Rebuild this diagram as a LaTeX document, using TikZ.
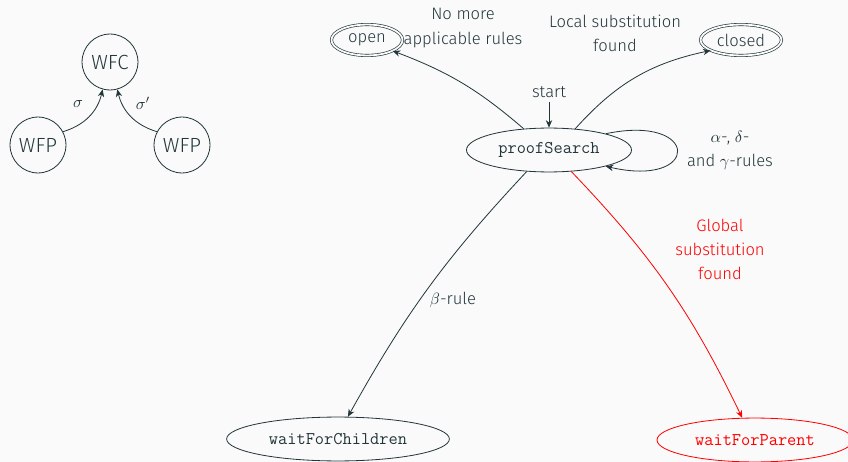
\documentclass[tikz,border=0pt]{standalone}
\usepackage{fontspec}
\setmainfont{Fira Sans}[UprightFont=* Light]
\usetikzlibrary{arrows.meta,shapes.geometric}
\definecolor{ink}{HTML}{23373B}
\definecolor{paper}{HTML}{FAFAFA}
\begin{document}
\begin{tikzpicture}[x=0.615pt,y=-0.615pt,
  every node/.style={text=ink,font=\fontsize{10.2}{14.8}\selectfont},
  tip/.style={-{Stealth[length=4.6pt,width=3.9pt]}},
  edge/.style={draw=ink,line width=0.5pt,tip},
  redge/.style={draw=red,line width=0.5pt,tip},
  wf/.style={circle,draw=ink,line width=0.5pt,minimum size=34.4pt,inner sep=0pt,font=\fontsize{12.6}{14.8}\selectfont},
  state/.style={ellipse,draw=ink,line width=0.5pt,inner sep=0pt,minimum height=27pt,font=\fontsize{11}{14.8}\selectfont\ttfamily},
  final/.style={ellipse,draw=ink,line width=0.4pt,double=paper,double distance=1.1pt,inner sep=0pt,minimum height=19pt},
  lbl/.style={align=center,inner sep=0pt}]
\fill[paper] (0,0) rectangle (848,462);
\useasboundingbox (0,0) rectangle (848,462);

% --- combining two partial results
\node[wf] (wfc) at (110,62) {WFC};
\node[wf] (wfpl) at (38,145) {WFP};
\node[wf] (wfpr) at (182,145) {WFP};
\draw[edge] (wfpl.28) to[bend right=30] (wfc.255);
\draw[edge] (wfpr.152) to[bend left=30] (wfc.285);
\node[lbl] (sig) at (78,104) {$\sigma$};
\node[lbl] (sigp) at (143,103) {$\sigma'$};

% --- proof search state machine
\node[state,minimum width=101.5pt] (ps) at (549,150) {proofSearch};
\node[final,minimum width=43.7pt] (open) at (367,40) {open};
\node[final,minimum width=49.8pt] (closed) at (741,40) {closed};
\node[state,minimum width=137pt] (wc) at (338,439) {waitForChildren};
\node[state,draw=red,text=red,minimum width=120.5pt] (wp) at (755,440) {waitForParent};

\node[lbl] (start) at (549,92) {start};
\draw[edge] (start.south) ++(0,4) coordinate (st) (st) -- (ps.north);

\draw[edge] (ps.140) to[bend right=10] (open.-23);
\draw[edge] (ps.39) to[bend left=18] (closed.199);
\draw[edge] (ps.16) .. controls +(95,-20) and +(95,22) .. (ps.-16);
\draw[edge] (ps.224) to[bend right=7] (wc.66);
\draw[redge] (ps.-44) to[bend left=9] (wp.120);

\node[lbl] (nomore) at (463,28) {No more\\applicable rules};
\node[lbl] (local) at (615,33) {Local substitution\\found};
\node[lbl] (rules) at (730,150) {$\alpha$-, $\delta$-\\and $\gamma$-rules};
\node[lbl] (beta) at (453,300) {$\beta$-rule};
\node[lbl,text=red] (global) at (720,249) {Global\\substitution\\found};
\end{tikzpicture}
\end{document}
